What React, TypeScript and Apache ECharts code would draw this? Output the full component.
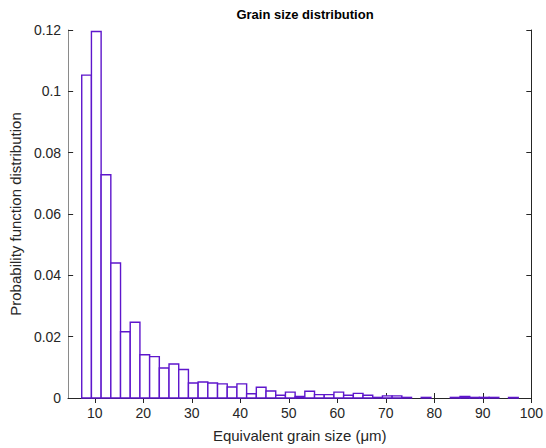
import React, { useEffect, useRef } from "react";
import * as echarts from "echarts";

// Histogram bins (equivalent grain size, µm)
const binStart = 7.3;
const binWidth = 2.0;
const density = [
  0.1053, 0.1195, 0.0728, 0.044, 0.0216, 0.0247, 0.0141, 0.0135, 0.0098, 0.0111,
  0.0093, 0.0049, 0.0052, 0.0049, 0.0046, 0.0036, 0.0046, 0.0014, 0.0035, 0.0023,
  0.0009, 0.0019, 0.0005, 0.0022, 0.0011, 0.0011, 0.0019, 0.0009, 0.0015, 0.0009,
  0.0002, 0.0007, 0.0007, 0.0002, 0, 0.0002, 0, 0, 0.0002, 0.0005,
  0.0002, 0.0002, 0.0002, 0, 0.0002,
];
const xTicks = [10, 20, 30, 40, 50, 60, 70, 80, 90, 100];
const xRange = [4.5, 100];
const yRange = [0, 0.12];
const yStep = 0.02;

const titleText = "Grain size distribution";
const xName = "Equivalent grain size (μm)";
const yName = "Probability function distribution";

export default function App() {
  const ref = useRef<HTMLDivElement>(null);
  useEffect(() => {
    if (!ref.current) return;
    const chart = echarts.init(ref.current, null, { renderer: "svg" });
    const data = density.map((v, i) => [
      binStart + i * binWidth,
      binStart + (i + 1) * binWidth,
      v,
    ]);
    const font = "'Liberation Sans', Arial, Helvetica, sans-serif";
    const axisColor = "#262626";
    const tickLabel = { color: axisColor, fontSize: 14, fontFamily: font };
    chart.setOption({
      animation: false,
      backgroundColor: "#ffffff",
      title: {
        text: titleText,
        left: 300,
        textAlign: "center",
        top: 3,
        textStyle: { fontSize: 13, fontWeight: "bold", color: "#000", fontFamily: font },
      },
      grid: { left: 64, right: 11, top: 30, bottom: 48, containLabel: false },
      xAxis: [
        {
          type: "value",
          min: xRange[0],
          max: xRange[1],
          position: "bottom",
          name: xName,
          nameLocation: "middle",
          nameGap: 30,
          nameTextStyle: { fontSize: 15, color: axisColor, fontFamily: font },
          axisLine: { show: true, lineStyle: { color: axisColor, width: 1 } },
          axisTick: { show: true, inside: true, length: 5, customValues: xTicks, lineStyle: { color: axisColor } },
          axisLabel: { customValues: xTicks, margin: 8, ...tickLabel },
          splitLine: { show: false },
        },
        {
          type: "value",
          min: xRange[0],
          max: xRange[1],
          position: "top",
          axisLine: { show: true, lineStyle: { color: axisColor, width: 1 } },
          axisTick: { show: true, inside: true, length: 5, customValues: xTicks, lineStyle: { color: axisColor } },
          axisLabel: { show: false },
          splitLine: { show: false },
        },
      ],
      yAxis: [
        {
          type: "value",
          min: yRange[0],
          max: yRange[1],
          interval: yStep,
          position: "left",
          name: yName,
          nameLocation: "middle",
          nameGap: 40,
          nameTextStyle: { fontSize: 15, color: axisColor, fontFamily: font },
          axisLine: { show: true, lineStyle: { color: "#8a8a8a", width: 1 } },
          axisTick: { show: true, inside: true, length: 5, lineStyle: { color: axisColor } },
          axisLabel: {
            margin: 7,
            formatter: (v: number) => String(+v.toFixed(2)),
            ...tickLabel,
          },
          splitLine: { show: false },
        },
        {
          type: "value",
          min: yRange[0],
          max: yRange[1],
          interval: yStep,
          position: "right",
          axisLine: { show: true, lineStyle: { color: axisColor, width: 1 } },
          axisTick: { show: true, inside: true, length: 5, lineStyle: { color: axisColor } },
          axisLabel: { show: false },
          splitLine: { show: false },
        },
      ],
      series: [
        {
          type: "custom",
          xAxisIndex: 0,
          yAxisIndex: 0,
          encode: { x: [0, 1], y: 2 },
          data,
          renderItem: (params: any, api: any) => {
            const x0 = api.value(0);
            const x1 = api.value(1);
            const v = api.value(2);
            if (!v) return { type: "group", children: [] };
            const p0 = api.coord([x0, v]);
            const p1 = api.coord([x1, 0]);
            return {
              type: "rect",
              shape: { x: p0[0], y: p0[1], width: p1[0] - p0[0], height: p1[1] - p0[1] },
              style: { fill: "#ffffff", stroke: "#5e16cc", lineWidth: 1.4 },
            };
          },
        },
      ],
    });
    return () => chart.dispose();
  }, []);
  return (
    <div
      ref={ref}
      style={{ position: "fixed", left: 0, top: 0, width: 546, height: 448, background: "#fff" }}
    />
  );
}
